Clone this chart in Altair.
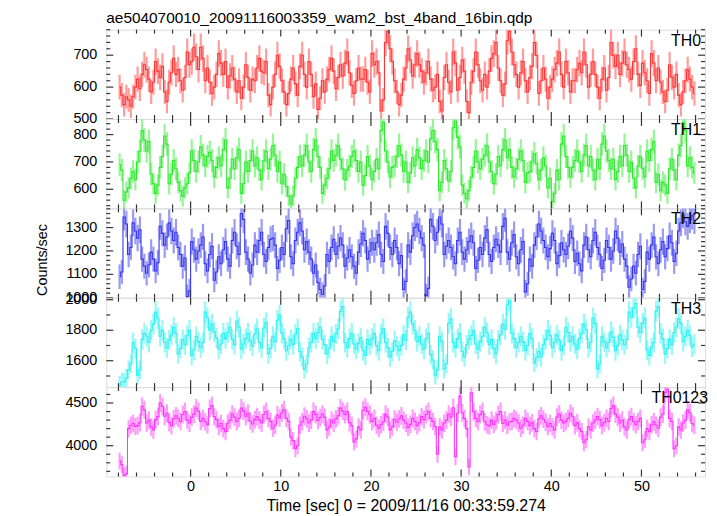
import math
import altair as alt
import pandas as pd

# ---------------- data (rates in counts/sec, 0.25 s bins) ----------------
bin_width = 0.25
first_bin_center = -7.875
exposure = 0.4

th0 = [600, 575, 545, 570, 560, 540, 570, 600, 625, 595, 640, 670,
       655, 625, 585, 615, 680, 650, 630, 665, 585, 555, 615, 645,
       690, 640, 655, 620, 590, 630, 710, 670, 680, 725, 695, 655,
       725, 690, 620, 660, 615, 580, 600, 640, 705, 675, 640, 680,
       600, 635, 660, 625, 585, 620, 565, 600, 670, 630, 590, 625,
       620, 660, 690, 650, 645, 680, 575, 545, 600, 640, 700, 665,
       620, 585, 545, 580, 625, 660, 610, 575, 665, 700, 640, 600,
       680, 640, 570, 610, 530, 565, 620, 585, 625, 655, 690, 650,
       595, 630, 670, 635, 675, 710, 645, 605, 580, 620, 660, 625,
       625, 655, 615, 585, 705, 670, 680, 645, 525, 560, 740, 775,
       720, 680, 620, 585, 545, 575, 625, 660, 720, 685, 635, 670,
       705, 670, 650, 615, 645, 680, 625, 590, 600, 640, 555, 525,
       630, 670, 615, 585, 710, 675, 590, 630, 685, 650, 555, 520,
       615, 650, 710, 670, 620, 590, 640, 600, 650, 690, 705, 740,
       660, 620, 575, 610, 745, 775, 710, 670, 640, 600, 645, 680,
       620, 585, 630, 665, 740, 700, 580, 620, 660, 625, 565, 600,
       625, 655, 675, 710, 640, 600, 680, 645, 585, 620, 620, 655,
       675, 645, 710, 670, 600, 640, 680, 640, 600, 565, 625, 660,
       590, 630, 740, 700, 665, 700, 640, 675, 710, 670, 655, 625,
       680, 720, 640, 605, 675, 645, 620, 580, 705, 675, 620, 660,
       615, 585, 555, 590, 670, 630, 600, 640, 575, 545, 585, 620,
       655, 625, 600, 580]

th1 = [690, 670, 560, 590, 605, 640, 665, 635, 700, 740, 815, 780,
       740, 775, 655, 620, 585, 615, 680, 720, 795, 765, 620, 655,
       705, 675, 625, 595, 575, 605, 620, 660, 740, 705, 665, 700,
       755, 725, 685, 720, 735, 705, 645, 680, 715, 685, 745, 780,
       605, 640, 710, 675, 715, 745, 585, 620, 700, 665, 705, 740,
       685, 715, 670, 635, 705, 740, 675, 710, 760, 725, 665, 700,
       620, 655, 610, 575, 545, 575, 640, 680, 720, 685, 725, 760,
       700, 665, 745, 780, 720, 680, 585, 615, 640, 675, 740, 705,
       725, 760, 710, 675, 635, 670, 685, 720, 740, 705, 665, 700,
       615, 650, 720, 685, 635, 665, 710, 675, 815, 845, 740, 700,
       645, 680, 685, 720, 760, 725, 665, 700, 625, 660, 715, 685,
       745, 715, 675, 705, 740, 700, 785, 815, 775, 745, 595, 625,
       705, 675, 630, 665, 825, 850, 790, 755, 615, 585, 565, 595,
       645, 680, 740, 700, 675, 710, 725, 760, 700, 665, 620, 655,
       720, 685, 745, 780, 715, 745, 680, 645, 675, 710, 740, 705,
       625, 660, 665, 700, 730, 695, 635, 670, 715, 685, 605, 640,
       555, 585, 670, 635, 765, 795, 720, 680, 645, 680, 705, 740,
       700, 665, 725, 760, 685, 720, 670, 635, 710, 675, 765, 795,
       740, 705, 675, 710, 635, 665, 720, 685, 760, 725, 665, 700,
       640, 605, 685, 720, 675, 645, 740, 705, 745, 775, 625, 655,
       595, 625, 615, 585, 675, 710, 670, 635, 725, 760, 845, 815,
       685, 715, 680, 660]

th2 = [1090, 1110, 1345, 1315, 1185, 1215, 1320, 1285, 1255, 1290, 1165, 1135,
       1105, 1140, 1195, 1165, 1115, 1150, 1305, 1275, 1225, 1260, 1320, 1285,
       1245, 1280, 1215, 1185, 1135, 1170, 1005, 1030, 1240, 1205, 1165, 1200,
       1225, 1260, 1145, 1115, 1185, 1220, 1075, 1110, 1175, 1145, 1205, 1240,
       1165, 1135, 1245, 1280, 1220, 1185, 1360, 1335, 1195, 1165, 1105, 1140,
       1225, 1195, 1245, 1280, 1185, 1155, 1215, 1250, 1255, 1225, 1125, 1160,
       1215, 1185, 1295, 1330, 1175, 1145, 1245, 1280, 1320, 1285, 1205, 1240,
       1195, 1165, 1105, 1140, 1065, 1035, 1015, 1050, 1185, 1155, 1215, 1250,
       1185, 1220, 1255, 1225, 1135, 1170, 1205, 1175, 1135, 1105, 1195, 1230,
       1275, 1245, 1165, 1200, 1235, 1205, 1235, 1270, 1185, 1155, 1305, 1275,
       1215, 1185, 1245, 1215, 1145, 1180, 1035, 1070, 1225, 1195, 1265, 1300,
       1315, 1285, 1255, 1225, 1010, 1040, 1335, 1305, 1245, 1280, 1345, 1315,
       1185, 1220, 1245, 1215, 1175, 1145, 1245, 1280, 1195, 1165, 1205, 1240,
       1265, 1235, 1125, 1160, 1215, 1185, 1255, 1290, 1185, 1155, 1215, 1250,
       1225, 1195, 1305, 1340, 1195, 1165, 1235, 1270, 1175, 1145, 1205, 1240,
       1025, 1060, 1165, 1135, 1225, 1260, 1315, 1285, 1245, 1215, 1175, 1210,
       1275, 1245, 1145, 1180, 1235, 1205, 1185, 1220, 1285, 1255, 1155, 1190,
       1145, 1115, 1225, 1260, 1205, 1175, 1245, 1280, 1215, 1185, 1125, 1160,
       1245, 1215, 1165, 1200, 1285, 1255, 1195, 1230, 1165, 1135, 1045, 1080,
       1135, 1105, 1185, 1220, 1035, 1070, 1195, 1165, 1225, 1260, 1175, 1145,
       1205, 1240, 1175, 1210, 1265, 1235, 1155, 1190, 1285, 1320, 1355, 1325,
       1305, 1335, 1350, 1330]

th3 = [1440, 1460, 1460, 1485, 1540, 1580, 1720, 1680, 1505, 1540, 1740, 1780,
       1760, 1720, 1800, 1840, 1920, 1880, 1760, 1800, 1720, 1685, 1735, 1770,
       1820, 1780, 1645, 1680, 1740, 1705, 1765, 1800, 1635, 1670, 1760, 1725,
       1685, 1720, 1920, 1880, 1800, 1840, 1790, 1750, 1675, 1710, 1780, 1745,
       1785, 1820, 1740, 1705, 1860, 1820, 1675, 1710, 1745, 1780, 1730, 1695,
       1775, 1810, 1720, 1685, 1815, 1850, 1645, 1680, 1760, 1725, 1865, 1900,
       1780, 1745, 1665, 1700, 1740, 1705, 1775, 1810, 1660, 1625, 1545, 1580,
       1685, 1720, 1780, 1745, 1785, 1820, 1740, 1705, 1645, 1680, 1760, 1725,
       1775, 1810, 1925, 1955, 1720, 1685, 1745, 1780, 1710, 1675, 1715, 1750,
       1665, 1635, 1740, 1705, 1745, 1780, 1700, 1665, 1775, 1810, 1720, 1685,
       1625, 1660, 1730, 1695, 1665, 1700, 1770, 1735, 1885, 1920, 1840, 1800,
       1725, 1760, 1710, 1675, 1745, 1780, 1640, 1605, 1505, 1540, 1760, 1725,
       1545, 1580, 1845, 1875, 1720, 1685, 1745, 1780, 1660, 1625, 1705, 1740,
       1765, 1800, 1710, 1675, 1725, 1760, 1820, 1785, 1705, 1740, 1680, 1645,
       1735, 1770, 1840, 1805, 1965, 1995, 1780, 1745, 1685, 1720, 1760, 1725,
       1665, 1700, 1780, 1745, 1585, 1620, 1660, 1625, 1705, 1740, 1800, 1765,
       1685, 1720, 1770, 1735, 1665, 1700, 1820, 1785, 1725, 1760, 1710, 1675,
       1745, 1780, 1840, 1805, 1685, 1720, 1880, 1845, 1545, 1580, 1760, 1725,
       1685, 1720, 1790, 1755, 1665, 1700, 1770, 1735, 1705, 1740, 1920, 1885,
       1945, 1975, 1820, 1785, 1845, 1880, 1670, 1635, 1685, 1720, 1925, 1955,
       1780, 1745, 1645, 1680, 1740, 1705, 1785, 1820, 1875, 1845, 1725, 1760,
       1800, 1765, 1690, 1710]

th0123 = [3820, 3780, 3650, 3670, 4200, 4240, 4260, 4225, 4235, 4270, 4460, 4420,
          4265, 4300, 4220, 4185, 4305, 4340, 4500, 4460, 4345, 4380, 4270, 4235,
          4315, 4350, 4320, 4285, 4365, 4400, 4300, 4265, 4335, 4370, 4440, 4405,
          4285, 4320, 4280, 4245, 4435, 4470, 4340, 4305, 4225, 4260, 4200, 4165,
          4265, 4300, 4370, 4335, 4285, 4320, 4440, 4405, 4345, 4380, 4290, 4255,
          4305, 4340, 4300, 4265, 4365, 4400, 4320, 4285, 4205, 4240, 4360, 4325,
          4385, 4420, 4320, 4285, 4100, 4060, 3965, 4000, 4240, 4280, 4345, 4315,
          4265, 4300, 4400, 4365, 4295, 4330, 4370, 4335, 4185, 4220, 4300, 4265,
          4315, 4350, 4440, 4405, 4365, 4400, 4270, 4235, 4045, 4080, 4220, 4185,
          4415, 4450, 4400, 4365, 4285, 4320, 4240, 4205, 4245, 4280, 4370, 4335,
          4185, 4220, 4310, 4275, 4315, 4350, 4300, 4265, 4215, 4250, 4320, 4285,
          4235, 4270, 4340, 4305, 4365, 4400, 4320, 4285, 4225, 3900, 4220, 4185,
          4265, 4300, 4370, 4335, 4445, 3870, 4380, 4580, 4385, 4320, 4200, 3750,
          4620, 4400, 4320, 4285, 4365, 4400, 4280, 4245, 4230, 4300, 4250, 4290,
          4365, 4400, 4260, 4300, 4240, 4280, 4285, 4320, 4300, 4265, 4205, 4240,
          4320, 4285, 4235, 4270, 4200, 4165, 4315, 4350, 4310, 4275, 4225, 4260,
          4220, 4185, 4335, 4370, 4300, 4265, 4285, 4320, 4380, 4345, 4235, 4270,
          4200, 4165, 4035, 4070, 4220, 4185, 4265, 4300, 4340, 4305, 4235, 4270,
          4320, 4285, 4435, 4470, 4370, 4335, 4265, 4300, 4220, 4185, 4305, 4340,
          4280, 4245, 4285, 4320, 4035, 4070, 4200, 4165, 4245, 4280, 4240, 4205,
          4335, 4370, 4620, 4660, 4320, 4285, 3965, 4000, 4220, 4185, 4265, 4300,
          4420, 4385, 4260, 4240]

names = ["TH0", "TH1", "TH2", "TH3", "TH0123"]
name_right_offset = [-4, -4, -4, -4, 3]
series = [th0, th1, th2, th3, th0123]
line_colors = ["#ff3535", "#2ee82e", "#3535f0", "#2ef0f0", "#ff35ff"]
bar_colors = ["#ff9c9c", "#96f596", "#9a9af5", "#96f8f8", "#ff9cff"]
y_domains = [[500, 780], [530, 857], [1000, 1382], [1427, 2013], [3640, 4686]]
y_label_values = [[500, 600, 700], [600, 700, 800], [1000, 1100, 1200, 1300],
                  [1600, 1800, 2000], [4000, 4500]]
y_minor_step = [20, 20, 20, 100, 100]
y_major_step = [100, 100, 100, 200, 500]
x_domain = [-9.35, 57.05]
x_label_values = [0, 10, 20, 30, 40, 50]
x_minor_step = 2
x_major_step = 10

title_text = "ae504070010_20091116003359_wam2_bst_4band_16bin.qdp"
x_title = "Time [sec] 0 = 2009/11/16 00:33:59.274"
y_title = "Counts/sec"

W = 603
H = 90
FONT = "Liberation Sans"
FS = 14.5
TICK_COLOR = "#333333"


def tick_values(lo, hi, step):
    start = math.ceil(lo / step) * step
    out = []
    v = start
    while v <= hi + 1e-9:
        out.append(v)
        v += step
    return out


def panel(k):
    vals = series[k]
    n = len(vals)
    t = [first_bin_center + bin_width * i for i in range(n)]
    err = [math.sqrt(v / exposure) for v in vals]
    df = pd.DataFrame({"t": t, "v": vals,
                       "lo": [v - e for v, e in zip(vals, err)],
                       "hi": [v + e for v, e in zip(vals, err)]})
    xs = alt.Scale(domain=x_domain, nice=False, zero=False)
    ys = alt.Scale(domain=y_domains[k], nice=False, zero=False)
    if k == len(series) - 1:
        xaxis = alt.Axis(values=x_label_values, ticks=False, domain=False, grid=False,
                         format="d",
                         labelFont=FONT, labelFontSize=FS, labelColor="black",
                         labelPadding=3, titleFont=FONT, titleFontSize=16,
                         titleFontWeight="normal", titleColor="black", titlePadding=5)
    else:
        xaxis = None

    base = alt.Chart(df)
    bars = base.mark_rule(color=bar_colors[k], strokeWidth=2.2, clip=True).encode(
        x=alt.X("t:Q", scale=xs, axis=xaxis, title=x_title),
        y=alt.Y("lo:Q", scale=ys, axis=None),
        y2="hi:Q")
    line = base.mark_line(interpolate="step", color=line_colors[k],
                          strokeWidth=1.1, clip=True).encode(
        x=alt.X("t:Q"), y=alt.Y("v:Q", axis=None))

    layers = [bars, line]

    # inward ticks on all four sides
    xmaj = tick_values(x_domain[0], x_domain[1], x_major_step)
    xmin = [v for v in tick_values(x_domain[0], x_domain[1], x_minor_step)
            if v % x_major_step != 0]
    ymaj = tick_values(y_domains[k][0], y_domains[k][1], y_major_step[k])
    ymin = [v for v in tick_values(y_domains[k][0], y_domains[k][1], y_minor_step[k])
            if v % y_major_step[k] != 0]
    for vals_, ln in ((xmaj, 7), (xmin, 4)):
        dft = pd.DataFrame({"t": vals_})
        for y0, y1 in ((0, ln), (H, H - ln)):
            layers.append(alt.Chart(dft).mark_rule(color=TICK_COLOR, strokeWidth=1.2).encode(
                x=alt.X("t:Q"), y=alt.value(y0), y2=alt.value(y1)))
    for vals_, ln in ((ymaj, 7), (ymin, 4)):
        dfy = pd.DataFrame({"v": vals_})
        for x0, x1 in ((0, ln), (W, W - ln)):
            layers.append(alt.Chart(dfy).mark_rule(color=TICK_COLOR, strokeWidth=1.2).encode(
                y=alt.Y("v:Q", axis=None), x=alt.value(x0), x2=alt.value(x1)))

    # y tick labels
    dfl = pd.DataFrame({"v": y_label_values[k]})
    layers.append(alt.Chart(dfl).mark_text(
        align="right", baseline="middle", font=FONT, fontSize=FS, color="black").encode(
        y=alt.Y("v:Q", axis=None), x=alt.value(-9),
        text=alt.Text("v:Q", format="d")))

    lab = alt.Chart(pd.DataFrame({"label": [names[k]]})).mark_text(
        align="right", baseline="top", font=FONT, fontSize=16, color="black").encode(
        x=alt.value(W + name_right_offset[k]), y=alt.value(3), text="label:N")
    layers.append(lab)

    if k == 0:
        ttl = alt.Chart(pd.DataFrame({"label": [title_text]})).mark_text(
            align="left", baseline="alphabetic", font=FONT, fontSize=15.5,
            color="black").encode(x=alt.value(0), y=alt.value(-7), text="label:N")
        layers.append(ttl)
    if k == 2:
        yt = alt.Chart(pd.DataFrame({"label": [y_title]})).mark_text(
            align="center", baseline="middle", font=FONT, fontSize=FS, angle=270,
            color="black").encode(x=alt.value(-64), y=alt.value(H / 2 + 7), text="label:N")
        layers.append(yt)

    return alt.layer(*layers).properties(width=W, height=H)


chart = alt.vconcat(*[panel(k) for k in range(len(series))], spacing=0,
                    bounds="flush").properties(
    padding={"left": 26, "top": 0, "right": 0, "bottom": 0}
).configure_view(stroke="#111111", strokeWidth=1.6).configure(background="white")

chart.save("out.html", embed_options={"renderer": "svg", "actions": False})
